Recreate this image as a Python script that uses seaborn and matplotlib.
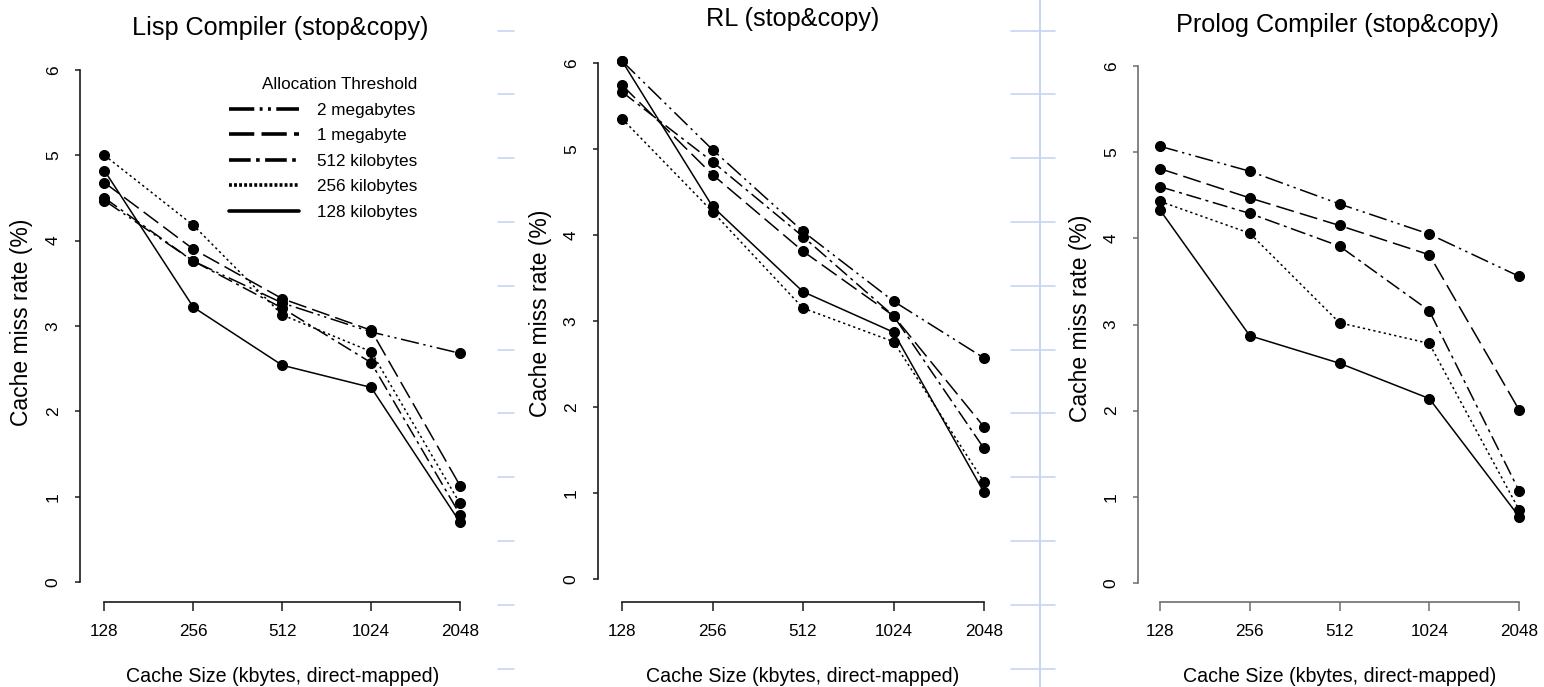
import matplotlib
matplotlib.use("Agg")
import numpy as np
import pandas as pd
import seaborn as sns
import matplotlib.pyplot as plt
from matplotlib.lines import Line2D

# ---------------- data ----------------
cache_sizes = [128, 256, 512, 1024, 2048]
thresholds = ["2 megabytes", "1 megabyte", "512 kilobytes", "256 kilobytes", "128 kilobytes"]
panel_titles = ["Lisp Compiler (stop&copy)", "RL (stop&copy)", "Prolog Compiler (stop&copy)"]
x_label = "Cache Size (kbytes, direct-mapped)"
y_label = "Cache miss rate (%)"
legend_title = "Allocation Threshold"

lisp_2mb = [4.47, 3.76, 3.27, 2.93, 2.68]
lisp_1mb = [4.68, 3.90, 3.32, 2.95, 1.13]
lisp_512kb = [4.50, 3.76, 3.21, 2.57, 0.79]
lisp_256kb = [5.00, 4.18, 3.13, 2.70, 0.92]
lisp_128kb = [4.82, 3.22, 2.54, 2.28, 0.70]

rl_2mb = [6.02, 4.99, 4.04, 3.23, 2.57]
rl_1mb = [5.74, 4.70, 3.81, 3.06, 1.77]
rl_512kb = [5.66, 4.85, 3.98, 3.06, 1.52]
rl_256kb = [5.35, 4.27, 3.15, 2.76, 1.13]
rl_128kb = [6.02, 4.33, 3.34, 2.87, 1.01]

prolog_2mb = [5.07, 4.78, 4.40, 4.05, 3.56]
prolog_1mb = [4.81, 4.47, 4.15, 3.81, 2.01]
prolog_512kb = [4.60, 4.29, 3.91, 3.16, 1.07]
prolog_256kb = [4.43, 4.06, 3.02, 2.78, 0.85]
prolog_128kb = [4.33, 2.87, 2.55, 2.14, 0.77]

panel_series = [
    [lisp_2mb, lisp_1mb, lisp_512kb, lisp_256kb, lisp_128kb],
    [rl_2mb, rl_1mb, rl_512kb, rl_256kb, rl_128kb],
    [prolog_2mb, prolog_1mb, prolog_512kb, prolog_256kb, prolog_128kb],
]

# ---------------- style ----------------
sns.set_style("white")
plt.rcParams["font.family"] = ["Liberation Sans", "DejaVu Sans"]
plt.rcParams["text.color"] = "black"
plt.rcParams["axes.labelcolor"] = "black"
plt.rcParams["xtick.color"] = "black"
plt.rcParams["ytick.color"] = "black"

dash_styles = {
    "2 megabytes": (12, 3, 1.5, 3, 1.5, 3),
    "1 megabyte": (12, 4),
    "512 kilobytes": (10, 3, 2, 3),
    "256 kilobytes": (1.5, 2),
    "128 kilobytes": "",
}
legend_dashes = {
    "2 megabytes": (7, 1.5, 0.8, 1.5, 0.8, 1.5),
    "1 megabyte": (7, 2),
    "512 kilobytes": (6, 1.5, 1, 1.5),
    "256 kilobytes": (0.8, 0.6),
    "128 kilobytes": None,
}

W, H = 1544, 687
fig = plt.figure(figsize=(W / 100, H / 100), dpi=100)

# pixel geometry of each panel: left spine, x(128), x(2048), y(0), y(6), x-axis line
geom = [
    dict(left=80, x0=104.5, x1=460, y0=582.0, y6=70.0, bottom=602, spine="#1a1a1a",
         tx=280, ty=28, ylx=22, yly=322),
    dict(left=598, x0=622, x1=984, y0=579.3, y6=62.7, bottom=602, spine="#1a1a1a",
         tx=793, ty=19, ylx=540, yly=313),
    dict(left=1138, x0=1160, x1=1519, y0=582.8, y6=66.2, bottom=602, spine="#6e6e6e",
         tx=1337, ty=25, ylx=1080, yly=318),
]

axes = []
for p, g in enumerate(geom):
    ppx = (g["x1"] - g["x0"]) / 4.0
    ppy = (g["y0"] - g["y6"]) / 6.0
    right = g["x1"] + 21
    top = g["y6"] - 20
    ax = fig.add_axes([g["left"] / W, 1 - g["bottom"] / H,
                       (right - g["left"]) / W, (g["bottom"] - top) / H])
    ax.set_xscale("log", base=2)
    df = pd.DataFrame({
        "size": np.tile(cache_sizes, len(thresholds)),
        "rate": np.concatenate(panel_series[p]),
        "threshold": np.repeat(thresholds, len(cache_sizes)),
    })
    sns.lineplot(data=df, x="size", y="rate", style="threshold", style_order=thresholds,
                 dashes=dash_styles, markers={t: "o" for t in thresholds},
                 color="black", lw=1.1, markersize=7.2, markeredgecolor="black",
                 legend=False, ax=ax)
    ax.set_xlim(2 ** (7 - (g["x0"] - g["left"]) / ppx), 2 ** (11 + 21 / ppx))
    ax.set_ylim(-(g["bottom"] - g["y0"]) / ppy, 6 + 20 / ppy)
    ax.set_xticks(cache_sizes, labels=[str(c) for c in cache_sizes])
    ax.xaxis.set_minor_locator(matplotlib.ticker.NullLocator())
    ax.set_yticks(range(7), labels=[str(i) for i in range(7)])
    for s in ["top", "right"]:
        ax.spines[s].set_visible(False)
    ax.spines["left"].set_bounds(0, 6)
    ax.spines["bottom"].set_bounds(128, 2048)
    for s in ["left", "bottom"]:
        ax.spines[s].set_color(g["spine"])
        ax.spines[s].set_linewidth(1.2)
    ax.tick_params(axis="x", direction="out", length=6.5, width=1.1, color=g["spine"],
                   pad=9, labelsize=12.3, bottom=True)
    ax.tick_params(axis="y", direction="out", length=3.8, width=1.1, color=g["spine"],
                   pad=10, labelsize=12.5, left=True)
    for lab in ax.get_yticklabels():
        lab.set_rotation(90)
        lab.set_va("center")
    ax.set_xlabel(x_label, fontsize=14.1)
    ax.xaxis.label.set_va("center")
    axw = right - g["left"]
    axh = g["bottom"] - top
    ax.xaxis.set_label_coords(((g["x0"] + g["x1"]) / 2 - g["left"]) / axw,
                              (g["bottom"] - 676) / axh)
    ax.set_ylabel(y_label, fontsize=16.5)
    ax.yaxis.label.set_va("center")
    ax.yaxis.set_label_coords((g["ylx"] - g["left"]) / axw, (g["bottom"] - g["yly"]) / axh)
    ax.patch.set_alpha(0)
    fig.text(g["tx"] / W, 1 - g["ty"] / H, panel_titles[p], ha="center", va="center",
             fontsize=18.2)
    axes.append(ax)

# legend (first panel)
handles = []
for t in thresholds:
    ln = Line2D([0], [0], color="black", lw=2.6)
    if legend_dashes[t] is not None:
        ln.set_dashes(legend_dashes[t])
    handles.append(ln)
leg = axes[0].legend(handles, thresholds, title=legend_title, loc="upper left",
                     bbox_to_anchor=(229 / W, 1 - 77 / H), bbox_transform=fig.transFigure,
                     frameon=False, borderpad=0, borderaxespad=0, fontsize=12.3,
                     title_fontsize=12.3, handlelength=4.1, handletextpad=1.05,
                     labelspacing=0.62)
leg._legend_box.align = "right"

# faint blue ruler marks from the scanned page
blue = "#c7d5f4"
for k in range(11):
    yy = 1 - (30.6 + 63.8 * k) / H
    fig.add_artist(Line2D([498 / W, 514 / W], [yy, yy], color=blue, lw=1.2,
                          transform=fig.transFigure))
    fig.add_artist(Line2D([1011 / W, 1055 / W], [yy, yy], color=blue, lw=1.2,
                          transform=fig.transFigure))
fig.add_artist(Line2D([1040 / W, 1040 / W], [0, 1], color=blue, lw=1.4,
                      transform=fig.transFigure))

fig.savefig("out.png", dpi=100)
